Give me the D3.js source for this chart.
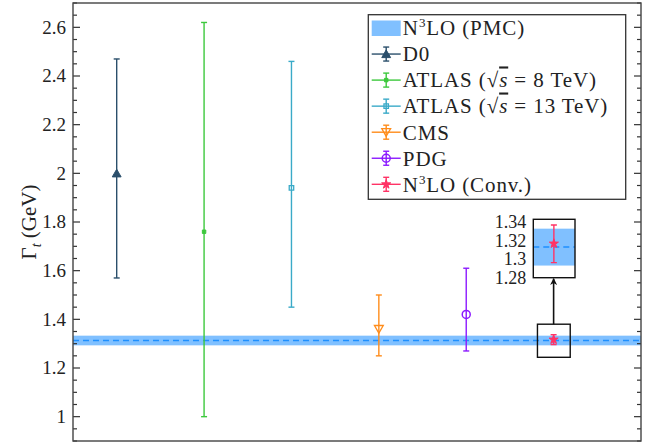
<!DOCTYPE html>
<html>
<head>
<meta charset="utf-8">
<script src="https://cdn.jsdelivr.net/npm/d3@7"></script>
<style>
  body { margin: 0; background: #fff; }
</style>
</head>
<body>
<script>
// measurements and theory
var names = ["D0", "ATLAS8", "ATLAS13", "CMS", "PDG", "Conv"];
var centers = [2.00, 1.76, 1.94, 1.36, 1.42, 1.3168];
var errUp = [0.47, 0.86, 0.52, 0.14, 0.19, 0.020];
var errDown = [0.43, 0.76, 0.49, 0.11, 0.15, 0.0205];
var colors = ["#2b4f6b", "#3cc83c", "#3aaac8", "#ff8c1a", "#8c1aff", "#ff3366"];
var markers = ["triUp", "square", "squareOpen", "triDown", "circle", "star"];
var pmc = {value: 1.3131, up: 0.0198, down: 0.0200};
var yTicks = [1, 1.2, 1.4, 1.6, 1.8, 2, 2.2, 2.4, 2.6];
var insetTicks = [1.28, 1.3, 1.32, 1.34];
var legendLabels = [
  [{t: "N"}, {t: "3", sup: true}, {t: "LO (PMC)"}],
  [{t: "D0"}],
  [{t: "ATLAS ("}, {t: "√"}, {t: "s", it: true, over: true}, {t: " = 8 TeV)"}],
  [{t: "ATLAS ("}, {t: "√"}, {t: "s", it: true, over: true}, {t: " = 13 TeV)"}],
  [{t: "CMS"}],
  [{t: "PDG"}],
  [{t: "N"}, {t: "3", sup: true}, {t: "LO (Conv.)"}]
];

var serif = "Liberation Serif";

var margin = {top: 3, right: 14, bottom: 4, left: 73},
    width = 655 - margin.left - margin.right,
    height = 445 - margin.top - margin.bottom;

var x = d3.scaleLinear().domain([0.5, 7]).range([0, width]);
var y = d3.scaleLinear().domain([0.9, 2.7]).range([height, 0]);

var svg = d3.select("body").append("svg")
    .attr("width", 655)
    .attr("height", 445)
    .attr("font-family", serif)
  .append("g")
    .attr("transform", "translate(" + margin.left + "," + margin.top + ")");

svg.append("clipPath").attr("id", "clip")
  .append("rect").attr("width", width).attr("height", height);

var bandFill = "#80c0ff", dashColor = "#1e8fff";

// PMC band
var plot = svg.append("g").attr("clip-path", "url(#clip)");
plot.append("rect")
    .attr("x", 0).attr("width", width)
    .attr("y", y(pmc.value + pmc.up))
    .attr("height", y(pmc.value - pmc.down) - y(pmc.value + pmc.up))
    .style("fill", bandFill);
plot.append("line")
    .attr("x1", 0).attr("x2", width)
    .attr("y1", y(pmc.value)).attr("y2", y(pmc.value))
    .style("stroke", dashColor).style("stroke-width", 1.4)
    .style("stroke-dasharray", "6,4");

function drawMarker(g, type, cx, cy, color, s) {
  s = s || 1;
  if (type == "triUp") {
    g.append("path").attr("d", d3.symbol(d3.symbolTriangle, 34 * s)())
      .attr("transform", "translate(" + cx + "," + (cy + 1) + ")")
      .style("fill", color).style("stroke", color);
  } else if (type == "triDown") {
    g.append("path").attr("d", d3.symbol(d3.symbolTriangle, 34 * s)())
      .attr("transform", "translate(" + cx + "," + (cy - 1) + ") rotate(180)")
      .style("fill", "none").style("stroke", color).style("stroke-width", 1.3);
  } else if (type == "square") {
    g.append("path").attr("d", d3.symbol(d3.symbolSquare, 12 * s)())
      .attr("transform", "translate(" + cx + "," + cy + ")")
      .style("fill", color).style("stroke", color);
  } else if (type == "squareOpen") {
    g.append("path").attr("d", d3.symbol(d3.symbolSquare, 20 * s)())
      .attr("transform", "translate(" + cx + "," + cy + ")")
      .style("fill", "none").style("stroke", color).style("stroke-width", 1.3);
  } else if (type == "circle") {
    g.append("circle").attr("cx", cx).attr("cy", cy).attr("r", 4 * Math.sqrt(s))
      .style("fill", "none").style("stroke", color).style("stroke-width", 1.5);
  } else if (type == "star") {
    g.append("path").attr("d", d3.symbol(d3.symbolStar, 26 * s)())
      .attr("transform", "translate(" + cx + "," + cy + ")")
      .style("fill", color).style("stroke", color);
  }
}

function errorBar(g, cx, yTop, yBot, color, cap) {
  g.append("line").attr("x1", cx).attr("x2", cx).attr("y1", yTop).attr("y2", yBot)
    .style("stroke", color).style("stroke-width", 1.4);
  [yTop, yBot].forEach(function(v) {
    g.append("line").attr("x1", cx - cap).attr("x2", cx + cap).attr("y1", v).attr("y2", v)
      .style("stroke", color).style("stroke-width", 1.4);
  });
}

// measurements
var points = svg.append("g");
names.forEach(function(n, i) {
  var cx = x(i + 1);
  errorBar(points, cx, y(centers[i] + errUp[i]), y(centers[i] - errDown[i]), colors[i], 3);
  drawMarker(points, markers[i], cx, y(centers[i]), colors[i], 1);
});

// axes (ticks inside, mirrored)
var minor = d3.range(0.9, 2.7001, 0.05);
function tickSet(g, side) {
  var dir = side == "left" ? 1 : -1, x0 = side == "left" ? 0 : width;
  g.selectAll(null).data(minor).enter().append("line")
    .attr("x1", x0).attr("x2", function(d) {
      var major = Math.abs(d * 5 - Math.round(d * 5)) < 1e-6;
      return x0 + dir * (major ? 7 : 4);
    })
    .attr("y1", function(d) { return y(d); }).attr("y2", function(d) { return y(d); })
    .style("stroke", "#333").style("stroke-width", 1.2);
}
var axes = svg.append("g");
tickSet(axes, "left");
tickSet(axes, "right");
axes.selectAll(".ylab").data(yTicks).enter().append("text")
    .attr("x", -7).attr("y", function(d) { return y(d); })
    .attr("dy", "0.34em")
    .attr("text-anchor", "end").attr("font-size", 19)
    .attr("font-family", serif).attr("fill", "#222")
    .text(function(d) { return d3.format("")(d); });
axes.append("rect")
    .attr("width", width).attr("height", height)
    .style("fill", "none").style("stroke", "#444").style("stroke-width", 1.4);

// y label
var ylab = svg.append("text")
    .attr("transform", "translate(" + (-37) + "," + (height / 2) + ") rotate(-90)")
    .attr("text-anchor", "middle").attr("font-size", 21)
    .attr("font-family", serif).attr("fill", "#222");
ylab.append("tspan").text("Γ");
ylab.append("tspan").text("t").attr("font-style", "italic").attr("font-size", 14).attr("dy", 5);
ylab.append("tspan").text(" (GeV)").attr("dy", -5);

// zoom box in main plot
var zx = [5.815, 6.19], zy = [1.244, 1.38];
svg.append("rect")
    .attr("x", x(zx[0])).attr("y", y(zy[1]))
    .attr("width", x(zx[1]) - x(zx[0])).attr("height", y(zy[0]) - y(zy[1]))
    .style("fill", "none").style("stroke", "#111").style("stroke-width", 1.4);

// inset
var ix = d3.scaleLinear().domain(zx).range([460.3, 502]);
var iy = d3.scaleLinear().domain([1.28, 1.343]).range([274.7, 216.3]);
svg.append("clipPath").attr("id", "iclip")
  .append("rect").attr("x", ix.range()[0]).attr("y", iy.range()[1])
  .attr("width", ix.range()[1] - ix.range()[0]).attr("height", iy.range()[0] - iy.range()[1]);
var inset = svg.append("g");
inset.append("rect")
    .attr("x", ix.range()[0]).attr("y", iy.range()[1])
    .attr("width", ix.range()[1] - ix.range()[0]).attr("height", iy.range()[0] - iy.range()[1])
    .style("fill", "#fff");
var ic = inset.append("g").attr("clip-path", "url(#iclip)");
ic.append("rect")
    .attr("x", ix.range()[0]).attr("width", ix.range()[1] - ix.range()[0])
    .attr("y", iy(pmc.value + pmc.up))
    .attr("height", iy(pmc.value - pmc.down) - iy(pmc.value + pmc.up))
    .style("fill", bandFill);
ic.append("line")
    .attr("x1", ix.range()[0]).attr("x2", ix.range()[1])
    .attr("y1", iy(pmc.value)).attr("y2", iy(pmc.value))
    .style("stroke", dashColor).style("stroke-width", 1.4)
    .style("stroke-dasharray", "6,4");
errorBar(ic, ix(6), iy(centers[5] + errUp[5]), iy(centers[5] - errDown[5]), colors[5], 3);
drawMarker(ic, "star", ix(6), iy(centers[5]), colors[5], 1);
inset.append("rect")
    .attr("x", ix.range()[0]).attr("y", iy.range()[1])
    .attr("width", ix.range()[1] - ix.range()[0]).attr("height", iy.range()[0] - iy.range()[1])
    .style("fill", "none").style("stroke", "#111").style("stroke-width", 1.4);
inset.selectAll(".ilab").data(insetTicks).enter().append("text")
    .attr("x", ix.range()[0] - 7).attr("y", function(d) { return iy(d); })
    .attr("dy", "0.34em")
    .attr("text-anchor", "end").attr("font-size", 18)
    .attr("font-family", serif).attr("fill", "#222")
    .text(function(d) { return d3.format("")(d); });

// arrow
svg.append("defs").append("marker")
    .attr("id", "arrow").attr("viewBox", "0 0 10 10")
    .attr("refX", 9).attr("refY", 5)
    .attr("markerWidth", 7).attr("markerHeight", 7)
    .attr("markerUnits", "userSpaceOnUse")
    .attr("orient", "auto")
  .append("path").attr("d", "M0,0 L10,5 L0,10 L3,5 Z").style("fill", "#111");
svg.append("line")
    .attr("x1", x(6)).attr("x2", x(6))
    .attr("y1", y(zy[1])).attr("y2", iy.range()[0] + 1)
    .style("stroke", "#111").style("stroke-width", 1.6)
    .attr("marker-end", "url(#arrow)");

// legend
var lg = svg.append("g").attr("transform", "translate(" + (368.3 - margin.left) + "," + (14.7 - margin.top) + ")");
lg.append("rect").attr("width", 257.4).attr("height", 184.6)
    .style("fill", "#fff").style("stroke", "#333").style("stroke-width", 1.3);
legendLabels.forEach(function(parts, k) {
  var cy = 13.3 + k * 26.05;
  var row = lg.append("g");
  if (k == 0) {
    row.append("rect").attr("x", 3.4).attr("y", cy - 7.5).attr("width", 29).attr("height", 15.5)
      .style("fill", bandFill);
  } else {
    var i = k - 1;
    row.append("line").attr("x1", 3.4).attr("x2", 32.4).attr("y1", cy).attr("y2", cy)
      .style("stroke", colors[i]).style("stroke-width", 1.4);
    errorBar(row, 17.9, cy - 7, cy + 7, colors[i], 3);
    drawMarker(row, markers[i], 17.9, cy, colors[i], 1);
  }
  var t = row.append("text").attr("x", 34.5).attr("y", cy).attr("dy", "0.35em")
    .attr("font-size", 21).attr("letter-spacing", 0.9)
    .attr("font-family", serif).attr("fill", "#222");
  parts.forEach(function(p, j) {
    var s = t.append("tspan").text(p.t);
    if (p.sup) s.attr("font-size", 13).attr("dy", -8);
    else if (j > 0 && parts[j - 1].sup) s.attr("dy", 8);
    if (p.it) s.attr("font-style", "italic");
    if (p.over) s.attr("text-decoration", "overline");
  });
});
</script>
</body>
</html>
